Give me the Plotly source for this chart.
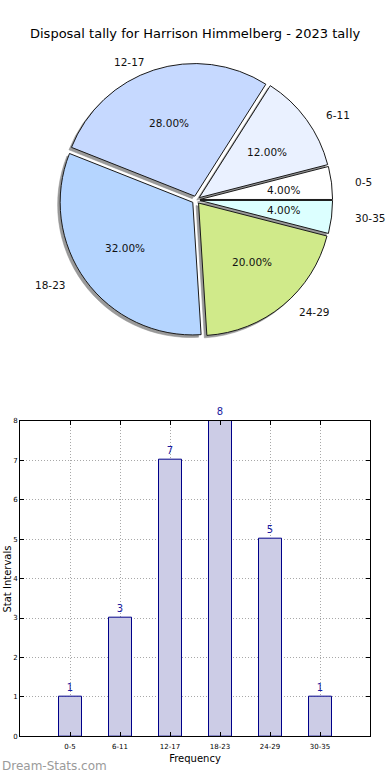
import math
import plotly.graph_objects as go

# ---- data ----
categories = ["0-5", "6-11", "12-17", "18-23", "24-29", "30-35"]
counts = [1, 3, 7, 8, 5, 1]
slice_colors = ["#ffffff", "#eaf1ff", "#c6d9ff", "#b5d5ff", "#d0ea8a", "#dcffff"]
title_text = "Disposal tally for Harrison Himmelberg - 2023 tally"

W, H = 390, 780
FONT = "DejaVu Sans"

# pie geometry (pixels)
cx, cy = 196, 198
r_pie = 134
pull = 0.03
half = r_pie * (1 + pull)
# text placement radii (reference pie is slightly elliptical)
rx_t, ry_t = 140, 130

total = sum(counts)
# first slice should begin at 3 o'clock and run counterclockwise
pie_rotation = 90 - 360 * counts[0] / total

def px_to_paper(x, y):
    return x / W, 1 - y / H

dom_x = [(cx - half) / W, (cx + half) / W]
dom_y = [1 - (cy + half) / H, 1 - (cy - half) / H]
sh = 2.5  # shadow offset px
shadow_dom_x = [dom_x[0] - sh / W, dom_x[1] - sh / W]
shadow_dom_y = [dom_y[0] - sh / H, dom_y[1] - sh / H]

fig = go.Figure()

# shadow pie
fig.add_trace(go.Pie(
    labels=categories, values=counts, sort=False, direction="counterclockwise",
    rotation=pie_rotation, pull=[pull] * len(counts), textinfo="none", hoverinfo="skip",
    marker=dict(colors=["#9a9a9a"] * len(counts), line=dict(color="#8a8a8a", width=0.5)),
    domain=dict(x=shadow_dom_x, y=shadow_dom_y), showlegend=False,
))
# main pie
fig.add_trace(go.Pie(
    labels=categories, values=counts, sort=False, direction="counterclockwise",
    rotation=pie_rotation, pull=[pull] * len(counts), textinfo="none",
    marker=dict(colors=slice_colors, line=dict(color="#1a1a1a", width=1)),
    domain=dict(x=dom_x, y=dom_y), showlegend=False,
))

# bar chart
fig.add_trace(go.Bar(
    x=categories, y=counts, width=0.46,
    marker=dict(color="#ccccE6", line=dict(color="#000088", width=1)),
    text=[str(c) for c in counts], textposition="outside", cliponaxis=False,
    textfont=dict(family=FONT, size=10, color="#1a1aa0"),
    showlegend=False,
))

annotations = []
cum = 0
for lab, v in zip(categories, counts):
    mid = 2 * math.pi * (cum + v / 2) / total
    cum += v
    c, s = math.cos(mid), math.sin(mid)
    # percent text
    px, py = cx + 0.63 * rx_t * c, cy - 0.63 * ry_t * s
    ax, ay = px_to_paper(px, py)
    annotations.append(dict(x=ax, y=ay, xref="paper", yref="paper", showarrow=False,
                            text=f"{100 * v / total:.2f}%", xanchor="center", yanchor="middle",
                            font=dict(family=FONT, size=10.5, color="#111")))
    # label
    lx, ly = cx + 1.13 * rx_t * c, cy - 1.13 * ry_t * s
    bx, by = px_to_paper(lx, ly)
    annotations.append(dict(x=bx, y=by, xref="paper", yref="paper", showarrow=False,
                            text=lab, xanchor="left" if c > 0 else "right", yanchor="middle",
                            font=dict(family=FONT, size=10.5, color="#111")))

annotations.append(dict(x=0.5, y=1 - 30 / H, xref="paper", yref="paper", showarrow=False,
                        text=title_text, xanchor="center", yanchor="middle",
                        font=dict(family=FONT, size=13, color="#000")))
annotations.append(dict(x=0, y=1 - 581 / H, xref="paper", yref="paper", showarrow=False,
                        text="Stat Intervals", textangle=-90, xanchor="left", yanchor="middle",
                        font=dict(family=FONT, size=10, color="#000")))
annotations.append(dict(x=0, y=1 - 770 / H, xref="paper", yref="paper", showarrow=False,
                        text="Dream-Stats.com", xanchor="left", yanchor="middle",
                        font=dict(family=FONT, size=12, color="#9a9a9a")))

grid_dash = "1px,2px"
fig.update_layout(
    width=W, height=H, margin=dict(l=0, r=0, t=0, b=0),
    paper_bgcolor="white", plot_bgcolor="white",
    annotations=annotations, bargap=0,
    xaxis=dict(domain=[20 / W, 370 / W], type="category", range=[-1, 6],
               showline=True, linecolor="black", linewidth=1, mirror="ticks",
               ticks="inside", ticklen=4, tickcolor="black",
               showgrid=True, gridcolor="#a8a8a8", griddash=grid_dash, gridwidth=1,
               tickfont=dict(family=FONT, size=7, color="#000"), ticklabelstandoff=3,
               title=dict(text="Frequency", font=dict(family=FONT, size=10, color="#000"), standoff=5),
               zeroline=False, fixedrange=True),
    yaxis=dict(domain=[1 - 740 / H, 1 - 421 / H], range=[0, 8], dtick=1,
               showline=True, linecolor="black", linewidth=1, mirror="ticks",
               ticks="inside", ticklen=4, tickcolor="black",
               showgrid=True, gridcolor="#a8a8a8", griddash=grid_dash, gridwidth=1,
               tickfont=dict(family=FONT, size=7, color="#000"),
               zeroline=False, fixedrange=True),
)

fig.write_html("out.html", config={"displayModeBar": False},
               post_script="document.body.style.margin='0px';document.body.style.overflow='hidden';")
